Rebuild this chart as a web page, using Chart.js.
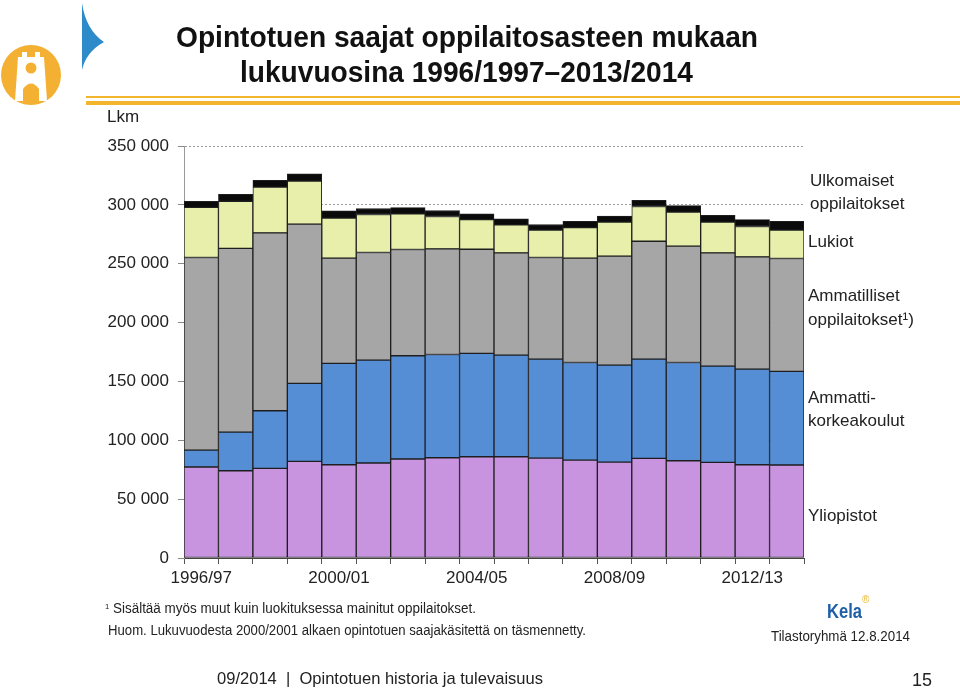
<!DOCTYPE html>
<html>
<head>
<meta charset="utf-8">
<script src="https://cdn.jsdelivr.net/npm/chart.js"></script>
<style>
  body { margin: 0; background: #fff; font-family: "Liberation Sans", Arial, sans-serif; color: #222; }
  #page { position: relative; width: 960px; height: 689px; overflow: hidden; }
  #wrap { position: absolute; left: 0; top: 0; width: 960px; height: 689px; }
  .t { position: absolute; white-space: nowrap; transform-origin: left top; }
  .lab { position: absolute; left: 808px; font-size: 17px; line-height: 23px; color: #222; }
</style>
</head>
<body>
<div id="page">
  <div id="wrap"><canvas id="chart"></canvas></div>

  <svg width="120" height="110" style="position:absolute;left:0;top:0">
    <path d="M82,3 Q86,30 104,42 Q86,52 82,70 Z" fill="#2E8BC9"/>
    <circle cx="31" cy="75" r="30" fill="#F4B032"/>
    <path d="M15,101 L18,57 L22,57 L22,52 L27,52 L27,57 L35,57 L35,52 L40,52 L40,57 L44,57 L47,101 Z" fill="#fff"/>
    <circle cx="31" cy="68" r="5.5" fill="#F4B032"/>
    <path d="M23,104 L23,89 Q31,78 39,89 L39,104 Z" fill="#F4B032"/>
  </svg>
  <div style="position:absolute;left:86px;top:96px;width:874px;height:2px;background:#F2B52C"></div>
  <div style="position:absolute;left:86px;top:101px;width:874px;height:4px;background:#F2B52C"></div>

  <div class="t fit" data-w="582" style="left:176px;top:20px;font-size:30px;font-weight:bold;color:#111">Opintotuen saajat oppilaitosasteen mukaan</div>
  <div class="t fit" data-w="453" style="left:240px;top:55px;font-size:30px;font-weight:bold;color:#111">lukuvuosina 1996/1997–2013/2014</div>

  <div class="t" style="left:107px;top:107px;font-size:17px">Lkm</div>

  <div class="lab" style="top:169px;left:810px">Ulkomaiset<br>oppilaitokset</div>
  <div class="lab" style="top:230px">Lukiot</div>
  <div class="lab" style="top:284px;line-height:24px">Ammatilliset<br>oppilaitokset¹)</div>
  <div class="lab" style="top:386px">Ammatti-<br>korkeakoulut</div>
  <div class="lab" style="top:504px">Yliopistot</div>

  <div class="t fit" data-w="371" style="left:105px;top:600px;font-size:14px"><span style="font-size:8px;vertical-align:4px">1</span> Sisältää myös muut kuin luokituksessa mainitut oppilaitokset.</div>
  <div class="t fit" data-w="478" style="left:108px;top:622px;font-size:14px">Huom. Lukuvuodesta 2000/2001 alkaen opintotuen saajakäsitettä on täsmennetty.</div>

  <div class="t fit" data-w="35" style="left:827px;top:599px;font-size:21px;font-weight:bold;color:#1F5FA8">Kela</div>
  <div class="t" style="left:862px;top:594px;font-size:10px;color:#E8B830">®</div>
  <div class="t fit" data-w="139" style="left:771px;top:627px;font-size:15px">Tilastoryhmä 12.8.2014</div>

  <div class="t fit" data-w="326" style="left:217px;top:669px;font-size:17px">09/2014 &nbsp;|&nbsp; Opintotuen historia ja tulevaisuus</div>
  <div class="t" style="left:912px;top:670px;font-size:18px">15</div>
</div>

<script>
const years = ['1996/97', '1997/98', '1998/99', '1999/00', '2000/01', '2001/02',
  '2002/03', '2003/04', '2004/05', '2005/06', '2006/07', '2007/08', '2008/09',
  '2009/10', '2010/11', '2011/12', '2012/13', '2013/14'];

const yliopistot = [77300, 74100, 76100, 82100, 79200, 80700, 84100, 85200, 86000,
  86000, 84900, 83200, 81500, 84600, 82600, 81200, 79200, 79000];
const amk = [14400, 32900, 49000, 66200, 86100, 87400, 87700, 87700, 87800,
  86300, 84100, 82900, 82400, 84400, 83500, 81800, 81300, 79500];
const ammatilliset = [163600, 156000, 151100, 135300, 89400, 91400, 90300, 89700, 88500,
  86900, 86300, 88600, 92500, 100100, 98800, 96200, 95300, 95900];
const lukiot = [42500, 40100, 38800, 36700, 34000, 32300, 30200, 27500, 25200,
  23800, 23200, 26000, 28900, 29500, 28900, 26100, 25800, 24100];
const ulkomaiset = [5300, 5900, 5900, 6000, 6200, 5100, 5400, 5100, 4800,
  5100, 4800, 5400, 5100, 5300, 5600, 5900, 5900, 7400];

const yTicks = [0, 50000, 100000, 150000, 200000, 250000, 300000, 350000];

function ds(label, data, color) {
  return {
    label: label, data: data, backgroundColor: color,
    borderColor: '#1e1e1e', borderWidth: 1, borderSkipped: false,
    categoryPercentage: 1, barPercentage: 1
  };
}

new Chart(document.getElementById('chart'), {
  type: 'bar',
  data: {
    labels: years,
    datasets: [
      ds('Yliopistot', yliopistot, '#C893DF'),
      ds('Ammattikorkeakoulut', amk, '#568ED6'),
      ds('Ammatilliset oppilaitokset', ammatilliset, '#A6A6A6'),
      ds('Lukiot', lukiot, '#E7EFAA'),
      ds('Ulkomaiset oppilaitokset', ulkomaiset, '#0a0a0a')
    ]
  },
  options: {
    responsive: true,
    maintainAspectRatio: false,
    animation: false,
    layout: { padding: { top: 146, right: 156, bottom: 0, left: 0 } },
    plugins: { legend: { display: false }, tooltip: { enabled: false } },
    scales: {
      x: {
        stacked: true,
        afterFit: s => { s.height = 131; },
        grid: { drawOnChartArea: false, offset: true, tickLength: 6, color: '#555' },
        border: { color: '#444', width: 1 },
        ticks: {
          autoSkip: false, maxRotation: 0, padding: 4,
          color: '#222', font: { family: 'Liberation Sans', size: 17 },
          callback: (v, i) => i % 4 === 0 ? years[i] : ''
        }
      },
      y: {
        stacked: true,
        min: 0, max: 350000,
        afterFit: s => { s.width = 184; },
        afterBuildTicks: s => { s.ticks = yTicks.map(v => ({ value: v })); },
        grid: { color: '#9a9a9a', tickLength: 6, tickColor: '#888' },
        border: { color: '#999', width: 1, dash: [2, 2] },
        ticks: {
          padding: 9, color: '#222', font: { family: 'Liberation Sans', size: 17 },
          callback: v => String(v).replace(/\B(?=(\d{3})+(?!\d))/g, ' ')
        }
      }
    }
  }
});

document.querySelectorAll('.fit').forEach(el => {
  const w = el.getBoundingClientRect().width;
  el.style.transform = 'scaleX(' + (Number(el.dataset.w) / w) + ')';
});
</script>
</body>
</html>
